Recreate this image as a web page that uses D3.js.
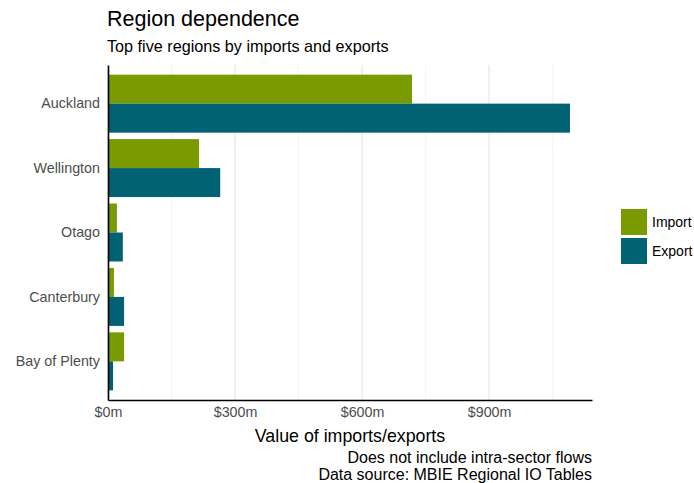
<!DOCTYPE html>
<html><head><meta charset="utf-8">
<script src="https://cdn.jsdelivr.net/npm/d3@7"></script>
<style>body{margin:0;background:#fff}svg{display:block;font-family:"Liberation Sans",Arial,sans-serif}</style>
</head><body><svg id="c" width="694" height="483"></svg>
<script>
const regions = ["Auckland","Wellington","Otago","Canterbury","Bay of Plenty"];
const seriesNames = ["Import","Export"];
const importValues = [718, 215, 21, 14, 38];
const exportValues = [1091, 265, 35, 38, 12];
const majorTicks = [0, 300, 600, 900];
const minorTicks = [150, 450, 750, 1050];
const colors = ["#7a9a01", "#006272"];

const svg = d3.select("#c");
const m = {l:108, r:592, t:65, b:400};
const x = d3.scaleLinear().domain([0, 1143]).range([m.l, m.r]);
const y = d3.scaleBand().domain(regions).range([m.t, m.b]).paddingInner(0.1).paddingOuter(0.15);
const sub = d3.scaleBand().domain(seriesNames).range([0, y.bandwidth()]);

// gridlines
svg.append("g").selectAll("line").data(minorTicks).join("line")
  .attr("x1", d=>x(d)).attr("x2", d=>x(d)).attr("y1", m.t).attr("y2", m.b)
  .attr("stroke", "#ebebeb").attr("stroke-width", 0.6);
svg.append("g").selectAll("line").data(majorTicks).join("line")
  .attr("x1", d=>x(d)).attr("x2", d=>x(d)).attr("y1", m.t).attr("y2", m.b)
  .attr("stroke", "#e5e5e5").attr("stroke-width", 1.1);

const rows = regions.map((r,i)=>({region:r, vals:[importValues[i], exportValues[i]]}));
const g = svg.append("g");
rows.forEach(row=>{
  row.vals.forEach((v,j)=>{
    g.append("rect")
      .attr("x", x(0)).attr("y", y(row.region)+sub(seriesNames[j]))
      .attr("width", x(v)-x(0)).attr("height", sub.bandwidth())
      .attr("fill", colors[j]);
  });
});

const ff = "Liberation Sans, Arial, sans-serif";
// axes
const xAxis = d3.axisBottom(x).tickValues(majorTicks).tickFormat(d=>"$"+d+"m").tickSize(0).tickPadding(7);
const xg = svg.append("g").attr("transform", `translate(0,${m.b})`).call(xAxis);
xg.select(".domain").attr("stroke","#000").attr("stroke-width",1.6);
xg.selectAll("text").attr("font-size", 14.3).attr("fill", "#4d4d4d").attr("font-family",ff);

const yAxis = d3.axisLeft(y).tickSize(0).tickPadding(8);
const yg = svg.append("g").attr("transform", `translate(${m.l},0)`).call(yAxis);
yg.select(".domain").attr("stroke","#000").attr("stroke-width",1.6);
yg.selectAll("text").attr("font-size", 14.3).attr("fill", "#4d4d4d").attr("font-family",ff);

// titles
svg.append("text").attr("x", 107).attr("y", 26).attr("font-size", 21.5).attr("fill","#000").text("Region dependence");
svg.append("text").attr("x", 107).attr("y", 52).attr("font-size", 16.2).attr("fill","#000").text("Top five regions by imports and exports");
svg.append("text").attr("x", (m.l+m.r)/2).attr("y", 442).attr("text-anchor","middle").attr("font-size", 17.8).attr("fill","#000").text("Value of imports/exports");
svg.append("text").attr("x", m.r).attr("y", 463).attr("text-anchor","end").attr("font-size", 16).attr("fill","#000").text("Does not include intra-sector flows");
svg.append("text").attr("x", m.r).attr("y", 480).attr("text-anchor","end").attr("font-size", 16).attr("fill","#000").text("Data source: MBIE Regional IO Tables");

// legend
const lg = svg.append("g");
seriesNames.forEach((s,i)=>{
  lg.append("rect").attr("x", 621).attr("y", 209 + i*29).attr("width", 26).attr("height", 26).attr("fill", colors[i]);
  lg.append("text").attr("x", 652).attr("y", 209 + i*29 + 18).attr("font-size", 14).attr("fill","#000").text(s);
});
</script></body></html>
